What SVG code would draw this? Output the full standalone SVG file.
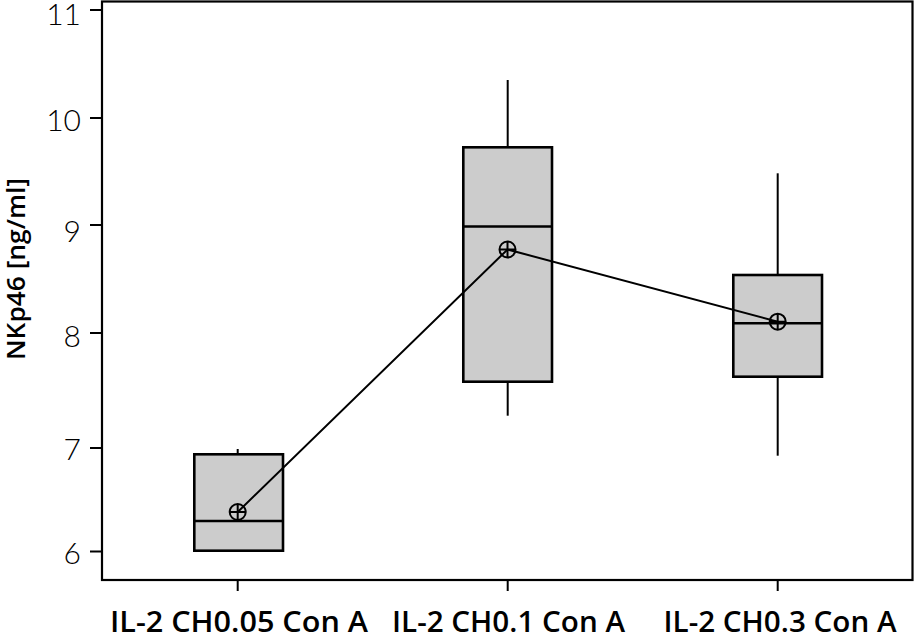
<svg xmlns="http://www.w3.org/2000/svg" width="915" height="637" viewBox="0 0 915 637">
<style>
.axis{fill:none;stroke:#000;stroke-width:2.2}
.tick{stroke:#000;stroke-width:2}
.box{fill:#cccccc;stroke:#000;stroke-width:2.6}
.med{stroke:#000;stroke-width:2.6}
.wh{stroke:#000;stroke-width:2}
.mean{fill:none;stroke:#000;stroke-width:2}
.meanline{fill:none;stroke:#000;stroke-width:2}
.tl{font-family:Lato,"Open Sans",sans-serif;font-weight:300;font-size:30px;fill:#000;text-anchor:end}
.xl{font-family:"Open Sans",Lato,sans-serif;font-weight:600;font-size:29px;fill:#000;text-anchor:middle}
.yl{font-family:"Open Sans",Lato,sans-serif;font-weight:600;font-size:26px;fill:#000;text-anchor:middle}
</style>
<rect width="915" height="637" fill="#fff"/>
<g id="axes">
<rect class="axis" x="102" y="1.5" width="810.5" height="578.5"/>
<line class="tick" x1="90" y1="10" x2="102" y2="10"/>
<line class="tick" x1="90" y1="118" x2="102" y2="118"/>
<line class="tick" x1="90" y1="225" x2="102" y2="225"/>
<line class="tick" x1="90" y1="333" x2="102" y2="333"/>
<line class="tick" x1="90" y1="448" x2="102" y2="448"/>
<line class="tick" x1="90" y1="551.5" x2="102" y2="551.5"/>
<line class="tick" x1="237.7" y1="580" x2="237.7" y2="591"/>
<line class="tick" x1="507.7" y1="580" x2="507.7" y2="591"/>
<line class="tick" x1="777.7" y1="580" x2="777.7" y2="591"/>
<text class="tl" x="81" y="25">11</text>
<text class="tl" x="81" y="131">10</text>
<text class="tl" x="81" y="242">9</text>
<text class="tl" x="81" y="347">8</text>
<text class="tl" x="81" y="460">7</text>
<text class="tl" x="81" y="564">6</text>
<text class="xl" x="239" y="632" textLength="258" lengthAdjust="spacingAndGlyphs">IL-2 CH0.05 Con A</text>
<text class="xl" x="508.5" y="632" textLength="233" lengthAdjust="spacingAndGlyphs">IL-2 CH0.1 Con A</text>
<text class="xl" x="780" y="632" textLength="233" lengthAdjust="spacingAndGlyphs">IL-2 CH0.3 Con A</text>
<text class="yl" transform="translate(25,269) rotate(-90)" textLength="182" lengthAdjust="spacingAndGlyphs">NKp46 [ng/ml]</text>
</g>
<g id="box1">
<line class="wh" x1="237.7" y1="449" x2="237.7" y2="454.3"/>
<rect class="box" x="194.3" y="454.3" width="88.7" height="96.4"/>
<line class="med" x1="194.3" y1="521" x2="283" y2="521"/>
</g>
<g id="box2">
<line class="wh" x1="507.7" y1="80" x2="507.7" y2="147.3"/>
<line class="wh" x1="507.7" y1="381.7" x2="507.7" y2="415.7"/>
<rect class="box" x="463.3" y="147.3" width="88.7" height="234.4"/>
<line class="med" x1="463.3" y1="226.5" x2="552" y2="226.5"/>
</g>
<g id="box3">
<line class="wh" x1="777.7" y1="173.3" x2="777.7" y2="275"/>
<line class="wh" x1="777.7" y1="376.7" x2="777.7" y2="455.7"/>
<rect class="box" x="733.3" y="275" width="88.7" height="101.7"/>
<line class="med" x1="733.3" y1="323.3" x2="822" y2="323.3"/>
</g>
<g id="connectors">
<polyline class="meanline" points="237.7,512 507.5,249.5 777.7,321.7"/>
</g>
<g id="means">
<g transform="translate(237.7,512)"><circle class="mean" r="8"/><path class="mean" d="M-8 0H8M0 -8V8"/></g>
<g transform="translate(507.5,249.5)"><circle class="mean" r="8"/><path class="mean" d="M-8 0H8M0 -8V8"/></g>
<g transform="translate(777.7,321.7)"><circle class="mean" r="8"/><path class="mean" d="M-8 0H8M0 -8V8"/></g>
</g>
</svg>
